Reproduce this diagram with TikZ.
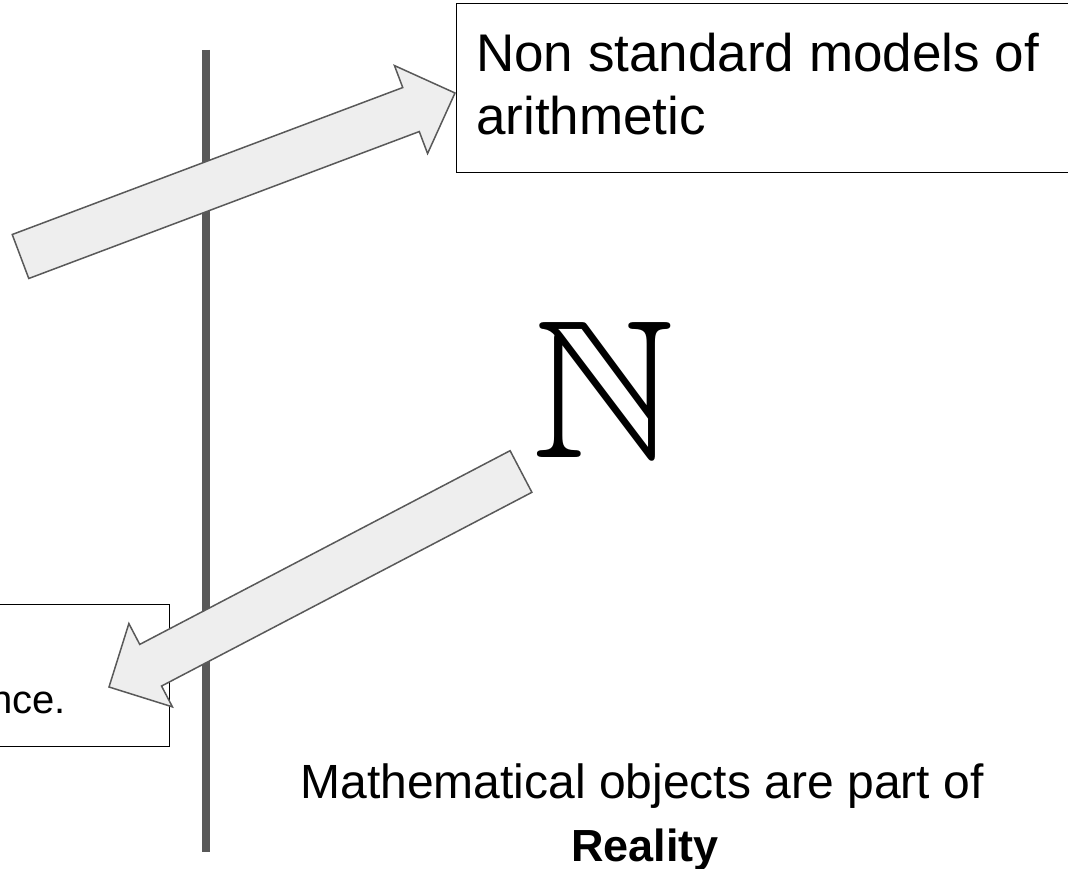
\documentclass[tikz,border=0pt]{standalone}
\usepackage{amssymb}
\usepackage{fontspec}
\setmainfont{Liberation Sans}
\usetikzlibrary{calc}
\definecolor{linegray}{HTML}{595959}
\definecolor{arrowfill}{HTML}{EEEEEE}
\tikzset{
  fatarrow/.style={draw=linegray, fill=arrowfill, line width=1.5pt, line join=miter},
  divider/.style={draw=linegray, line width=8pt},
  textbox/.style={draw=black, line width=1.4pt, inner sep=0pt},
  bigtext/.style={inner sep=0pt, font=\fontsize{53}{63}\selectfont},
}
\newcommand\fatarrowdraw[2]{%
  \coordinate (#1-#2-h) at ($(#2)!47pt!(#1)$);
  \path[fatarrow] ($(#1)!23.5pt!90:(#2)$) -- ($(#1-#2-h)!23.5pt!90:(#2)$) -- ($(#1-#2-h)!47pt!90:(#2)$) -- (#2) -- ($(#1-#2-h)!47pt!-90:(#2)$) -- ($(#1-#2-h)!23.5pt!-90:(#2)$) -- ($(#1)!23.5pt!-90:(#2)$) -- cycle;}
\begin{document}
\begin{tikzpicture}[x=1pt,y=-1pt]
\useasboundingbox (0,0) rectangle (1068,869);
% divider line
\coordinate (vtop) at (206,50);
\coordinate (vbot) at (206,852);
\draw[divider] (vtop) -- (vbot);
% boxes
\node[textbox, anchor=north west, minimum width=625pt, minimum height=169pt] (topbox) at (456,3) {};
\node[bigtext, anchor=base west] (toptext1) at (476,72) {Non standard models of};
\node[bigtext, anchor=base west] (toptext2) at (476,135) {arithmetic};
\node[textbox, anchor=north east, minimum width=190pt, minimum height=142pt] (leftbox) at (170,604) {};
\node[inner sep=0pt, font=\fontsize{40}{48}\selectfont, anchor=base east] (lefttext) at (66,713) {nce.};
% N
\node[inner sep=0pt, scale=19.7] (nat) at (604,390) {$\mathbb{N}$};
% bottom text
\node[inner sep=0pt, font=\fontsize{48}{58}\selectfont, anchor=base] (bot1) at (642,798) {Mathematical objects are part of};
\node[inner sep=0pt, font=\fontsize{45}{54}\selectfont\bfseries, anchor=base] (bot2) at (645,861) {Reality};
% arrows
\coordinate (a1tail) at (20.5,256.5);
\coordinate (a1tip) at (455,93);
\fatarrowdraw{a1tail}{a1tip}
\coordinate (a2tail) at (521,471.5);
\coordinate (a2tip) at (109,687);
\fatarrowdraw{a2tail}{a2tip}
\end{tikzpicture}
\end{document}
